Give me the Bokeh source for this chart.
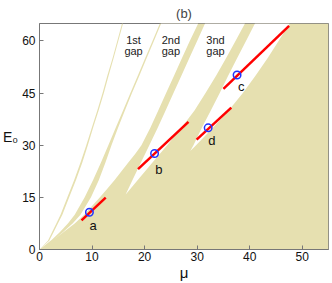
from bokeh.plotting import figure
from bokeh.models import Range1d
from bokeh.core.properties import value
from bokeh.embed import file_html
from bokeh.resources import INLINE

X_MAX, Y_MAX = 55, 65
KHAKI = "#E6E0B0"
FONT = "Liberation Sans"

# ---- band edges (mu values read at E0 levels) ----
E0_b1 = [0, 2.5, 5, 7.5, 10, 15, 20, 25, 30, 35, 40, 45, 50, 55, 60, 65]
mu_b1_left = [0, 1.6, 2.4, 3.2, 4.0, 5.3, 6.6, 7.8, 8.9, 9.95, 11.0, 12.0, 12.9, 13.9, 14.8, 15.7]
mu_b1_right = [0, 1.85, 2.7, 3.5, 4.35, 5.65, 6.95, 8.15, 9.2, 10.2, 11.25, 12.25, 13.15, 14.1, 15.0, 15.9]

E0_b2 = [0, 2.8, 5, 7.5, 10, 15, 20, 25, 30, 35, 40, 45, 50, 55, 60, 65]
mu_b2_left = [0, 2.35, 3.9, 5.4, 6.7, 8.6, 10.2, 11.7, 13.1, 14.5, 15.9, 17.3, 18.7, 20.1, 21.5, 22.9]

# gap 2 (between band 2 and band 3)
E0_g2_left = [2.8, 5, 7.5, 10, 15, 20, 25, 30, 35, 40, 45, 50, 55, 60, 65]
mu_g2_left = [2.7, 4.5, 6.3, 7.8, 9.8, 11.3, 12.55, 13.7, 14.95, 16.25, 17.6, 19.0, 20.38, 21.77, 23.15]
E0_g2_right = [2.8, 5, 7.5, 10, 12.5, 15, 17.5, 20, 22.5, 25, 27.5, 30, 35, 40, 45, 50, 55, 60, 65]
mu_g2_right = [2.7, 4.6, 6.7, 8.5, 10.0, 11.5, 12.9, 14.3, 15.6, 16.9, 18.2, 19.4, 21.1, 22.6, 24.1, 25.6, 27.1, 28.6, 30.2]

# gap 3 (between band 3 and band 4)
E0_g3 = [15.8, 20, 25, 30, 35, 40, 45, 50, 55, 60, 65]
mu_g3_left = [16.4, 17.7, 19.3, 20.9, 22.5, 24.0, 25.5, 27.0, 28.5, 30.0, 31.5]
mu_g3_right = [16.4, 18.7, 21.5, 24.3, 27.0, 29.5, 31.6, 33.6, 35.5, 37.3, 39.1]

# gap 4 (between band 4 and band 5)
E0_g4 = [28.3, 30, 35, 40, 45, 50, 55, 60, 65]
mu_g4_left = [28.7, 29.3, 30.9, 32.6, 34.3, 35.9, 37.6, 39.3, 41.0]
mu_g4_right = [28.7, 29.8, 33.0, 36.0, 38.7, 41.1, 43.4, 45.5, 47.6]

# ---- soliton families (red segments) and marked points ----
seg_mu = [[8.0, 12.6], [18.75, 28.35], [35.0, 47.5], [29.9, 36.5]]
seg_E0 = [[8.4, 14.9], [23.1, 36.7], [46.2, 64.3], [31.6, 40.8]]
pt_names = ["a", "b", "c", "d"]
pt_mu = [9.5, 21.9, 37.6, 32.1]
pt_E0 = [10.7, 27.6, 50.2, 35.0]
lab_mu = [10.2, 22.7, 38.4, 32.8]
lab_E0 = [6.8, 23.0, 46.9, 31.3]

gap_lab_top = ["1st", "2nd", "3nd"]
gap_lab_bot = ["gap", "gap", "gap"]
gap_lab_mu = [17.9, 25.0, 33.5]
gap_lab_E0_top = [60.3, 60.3, 60.3]
gap_lab_E0_bot = [57.0, 57.0, 57.0]

x_ticks = [0, 10, 20, 30, 40, 50]
y_ticks = [0, 15, 30, 45, 60]

p = figure(frame_width=289, frame_height=226, output_backend="svg", toolbar_location=None,
           x_range=Range1d(0, X_MAX), y_range=Range1d(0, Y_MAX),
           min_border_left=32, min_border_right=3, min_border_top=16, min_border_bottom=30)
p.background_fill_color = "white"
p.border_fill_color = "white"
p.grid.visible = False

# bulk of bands (everything right of band-2 left edge)
bulk_x = mu_b2_left + [X_MAX, X_MAX]
bulk_y = E0_b2 + [Y_MAX, 0]
p.patch(bulk_x, bulk_y, fill_color=KHAKI, line_color=None)

def gap_patch(xl, yl, xr, yr):
    xs = list(xl) + list(reversed(xr))
    ys = list(yl) + list(reversed(yr))
    p.patch(xs, ys, fill_color="white", line_color=None)

gap_patch(mu_g2_left, E0_g2_left, mu_g2_right, E0_g2_right)
gap_patch(mu_g3_left, E0_g3, mu_g3_right, E0_g3)
gap_patch(mu_g4_left, E0_g4, mu_g4_right, E0_g4)

# thin first band
p.patch(mu_b1_left + list(reversed(mu_b1_right)), E0_b1 + list(reversed(E0_b1)),
        fill_color=KHAKI, line_color=None)

p.multi_line(seg_mu, seg_E0, line_color="red", line_width=2.5)
p.scatter(pt_mu, pt_E0, marker="circle", size=7.5, fill_color=None,
          line_color="#2233ff", line_width=1.5)

p.text(lab_mu, lab_E0, text=pt_names, text_font=value(FONT), text_font_size="13px",
       text_align="center", text_baseline="middle", text_color="#111111")
p.text(gap_lab_mu, gap_lab_E0_top, text=gap_lab_top, text_font=value(FONT),
       text_font_size="11px", text_align="center", text_baseline="middle", text_color="#222222")
p.text(gap_lab_mu, gap_lab_E0_bot, text=gap_lab_bot, text_font=value(FONT),
       text_font_size="11px", text_align="center", text_baseline="middle", text_color="#222222")

p.title.text = "(b)"
p.title.align = "center"
p.title.text_font = FONT
p.title.text_font_size = "13px"
p.title.text_font_style = "normal"
p.title.standoff = 6

for ax in (p.xaxis, p.yaxis):
    ax.major_tick_in = 4
    ax.major_tick_out = 0
    ax.minor_tick_line_color = None
    ax.axis_line_color = "#777777"
    ax.major_tick_line_color = "#777777"
    ax.major_label_text_font = FONT
    ax.major_label_text_font_size = "12px"
    ax.major_label_text_color = "#111111"
    ax.axis_label_text_font = FONT
    ax.axis_label_text_font_style = "normal"
    ax.axis_label_text_color = "#111111"
p.xaxis.ticker = x_ticks
p.yaxis.ticker = y_ticks
p.xaxis.major_label_standoff = 2
p.yaxis.major_label_standoff = 4
p.xaxis.axis_label = "μ"
p.xaxis.axis_label_text_font_size = "15px"
p.xaxis.axis_label_standoff = 0
p.yaxis.axis_label = "E₀"
p.yaxis.axis_label_text_font_size = "14px"
p.yaxis.axis_label_orientation = "horizontal"
p.yaxis.axis_label_standoff = 1
p.outline_line_color = "#777777"

open("out.html", "w").write(file_html(p, INLINE))
